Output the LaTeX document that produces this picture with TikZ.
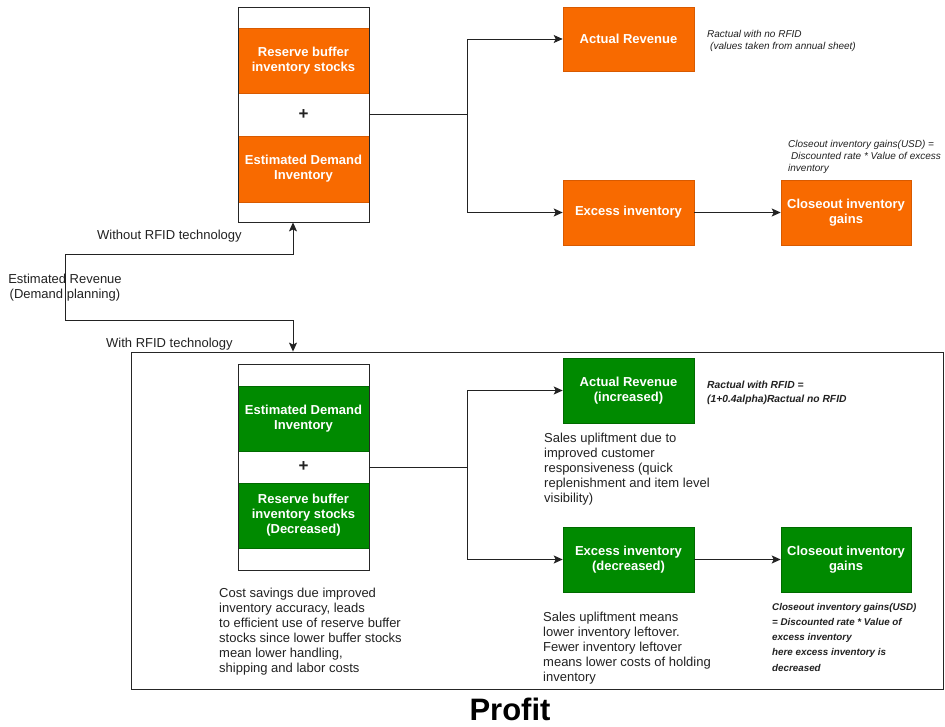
\documentclass[tikz,border=0pt]{standalone}
\usepackage{fontspec}
\setmainfont{Liberation Sans}
\usetikzlibrary{arrows.meta}
\definecolor{org}{HTML}{F86A00}
\definecolor{orgd}{HTML}{D85A00}
\definecolor{grn}{HTML}{008A00}
\definecolor{grnd}{HTML}{006A00}
\definecolor{txt}{HTML}{222222}
\begin{document}
\begin{tikzpicture}[x=1pt,y=-1pt,
  stackbox/.style={draw=black!85, line width=0.8pt, minimum width=131pt, inner sep=0pt},
  blk/.style={text=white, font=\fontsize{13}{15}\selectfont\bfseries, align=center, inner sep=0pt, line width=0.6pt},
  oblk/.style={blk, fill=org, draw=orgd},
  gblk/.style={blk, fill=grn, draw=grnd},
  plusbox/.style={minimum width=131pt, inner sep=0pt, font=\fontsize{17}{17}\selectfont\bfseries, text=txt},
  conn/.style={draw=txt, line width=0.9pt},
  arr/.style={conn, -{Stealth[length=9pt,width=8pt,inset=2pt]}},
  lbl/.style={inner sep=0pt, text=txt, font=\fontsize{13}{15}\selectfont},
  para/.style={inner sep=0pt, text=txt, align=left, anchor=north west, font=\fontsize{13}{15}\selectfont},
  inote/.style={inner sep=0pt, text=txt, align=left, anchor=north west, font=\fontsize{10}{11.8}\selectfont\itshape},
  bnote/.style={inner sep=0pt, text=txt, align=left, anchor=north west, font=\fontsize{10.3}{13.7}\selectfont\bfseries\itshape}
]
\path[fill=white] (0,0) rectangle (945,727);
\useasboundingbox (0,0) rectangle (945,727);

% ---------- Without RFID (top) ----------
\node[oblk, minimum width=131pt, minimum height=65pt] (reserveA) at (303.5,60.5) {Reserve buffer\\inventory stocks};
\node[plusbox, minimum height=43pt] (plusA) at (303.5,114.5) {+};
\node[oblk, minimum width=131pt, minimum height=66pt] (demandA) at (303.5,169) {Estimated Demand\\Inventory};
\node[stackbox, minimum height=215pt] (topstack) at (303.5,114.5) {};

\node[oblk, minimum width=131pt, minimum height=64pt] (actA) at (628.5,39) {Actual Revenue};
\node[oblk, minimum width=131pt, minimum height=65pt] (excA) at (628.5,212.5) {Excess inventory};
\node[oblk, minimum width=130pt, minimum height=65pt] (closeA) at (846,212.5) {Closeout inventory\\gains};

\node[inote] (noteA1) at (707,30) {Ractual with no RFID\\\hspace{3pt}(values taken from annual sheet)};
\node[inote] (noteA2) at (788,140) {Closeout inventory gains(USD) =\\\hspace{3pt}Discounted rate * Value of excess\\inventory};

\coordinate (splitA) at (467,0);
\draw[arr] (plusA.east) -- (plusA.east -| splitA) |- (actA.west);
\draw[arr] (plusA.east -| splitA) |- (excA.west);
\draw[arr] (excA.east) -- (closeA.west);

% ---------- Estimated revenue and branches ----------
\node[lbl, align=center, minimum height=65pt] (er) at (65,287.5) {Estimated Revenue\\(Demand planning)};
\node[lbl, anchor=base west] (without) at (97,239.3) {Without RFID technology};
\node[lbl, anchor=base west] (with) at (106,347.3) {With RFID technology};

\node[draw=black!85, line width=0.8pt, minimum width=812pt, minimum height=337pt, inner sep=0pt] (withbox) at (537,520.5) {};

\coordinate (ax) at (293,0);
\draw[arr] (er.center) -- (er.north) -| (ax |- topstack.south);
\draw[arr] (er.center) -- (er.south) -| (ax |- withbox.north);

% ---------- With RFID (bottom) ----------
\node[gblk, minimum width=131pt, minimum height=65pt] (demandB) at (303.5,418.5) {Estimated Demand\\Inventory};
\node[plusbox, minimum height=32pt] (plusB) at (303.5,467) {+};
\node[gblk, minimum width=131pt, minimum height=65pt] (reserveB) at (303.5,515.5) {Reserve buffer\\inventory stocks\\(Decreased)};
\node[stackbox, minimum height=206pt] (botstack) at (303.5,467) {};

\node[gblk, minimum width=131pt, minimum height=65pt] (actB) at (628.5,390.5) {Actual Revenue\\(increased)};
\node[gblk, minimum width=131pt, minimum height=65pt] (excB) at (628.5,559.5) {Excess inventory\\(decreased)};
\node[gblk, minimum width=130pt, minimum height=65pt] (closeB) at (846,559.5) {Closeout inventory\\gains};

\coordinate (splitB) at (467,0);
\draw[arr] (plusB.east) -- (plusB.east -| splitB) |- (actB.west);
\draw[arr] (plusB.east -| splitB) |- (excB.west);
\draw[arr] (excB.east) -- (closeB.west);

\node[bnote] (noteB1) at (707,381) {Ractual with RFID =\\(1+0.4alpha)Ractual no RFID};
\node[para] (salesB) at (544,433) {Sales upliftment due to\\improved customer\\responsiveness (quick\\replenishment and item level\\visibility)};
\node[para] (salesC) at (543,612) {Sales upliftment means\\lower inventory leftover.\\Fewer inventory leftover\\means lower costs of holding\\inventory};
\node[inote, font=\fontsize{9.8}{15.2}\selectfont\bfseries\itshape] (noteB2) at (772,603) {Closeout inventory gains(USD)\\= Discounted rate * Value of\\excess inventory\\here excess inventory is\\decreased};
\node[para] (cost) at (219,588) {Cost savings due improved\\inventory accuracy, leads\\to efficient use of reserve buffer\\stocks since lower buffer stocks\\mean lower handling,\\shipping and labor costs};

\node[inner sep=0pt, anchor=base, font=\fontsize{31}{31}\selectfont\bfseries, text=black] (profit) at (510,720) {Profit};
\end{tikzpicture}
\end{document}
